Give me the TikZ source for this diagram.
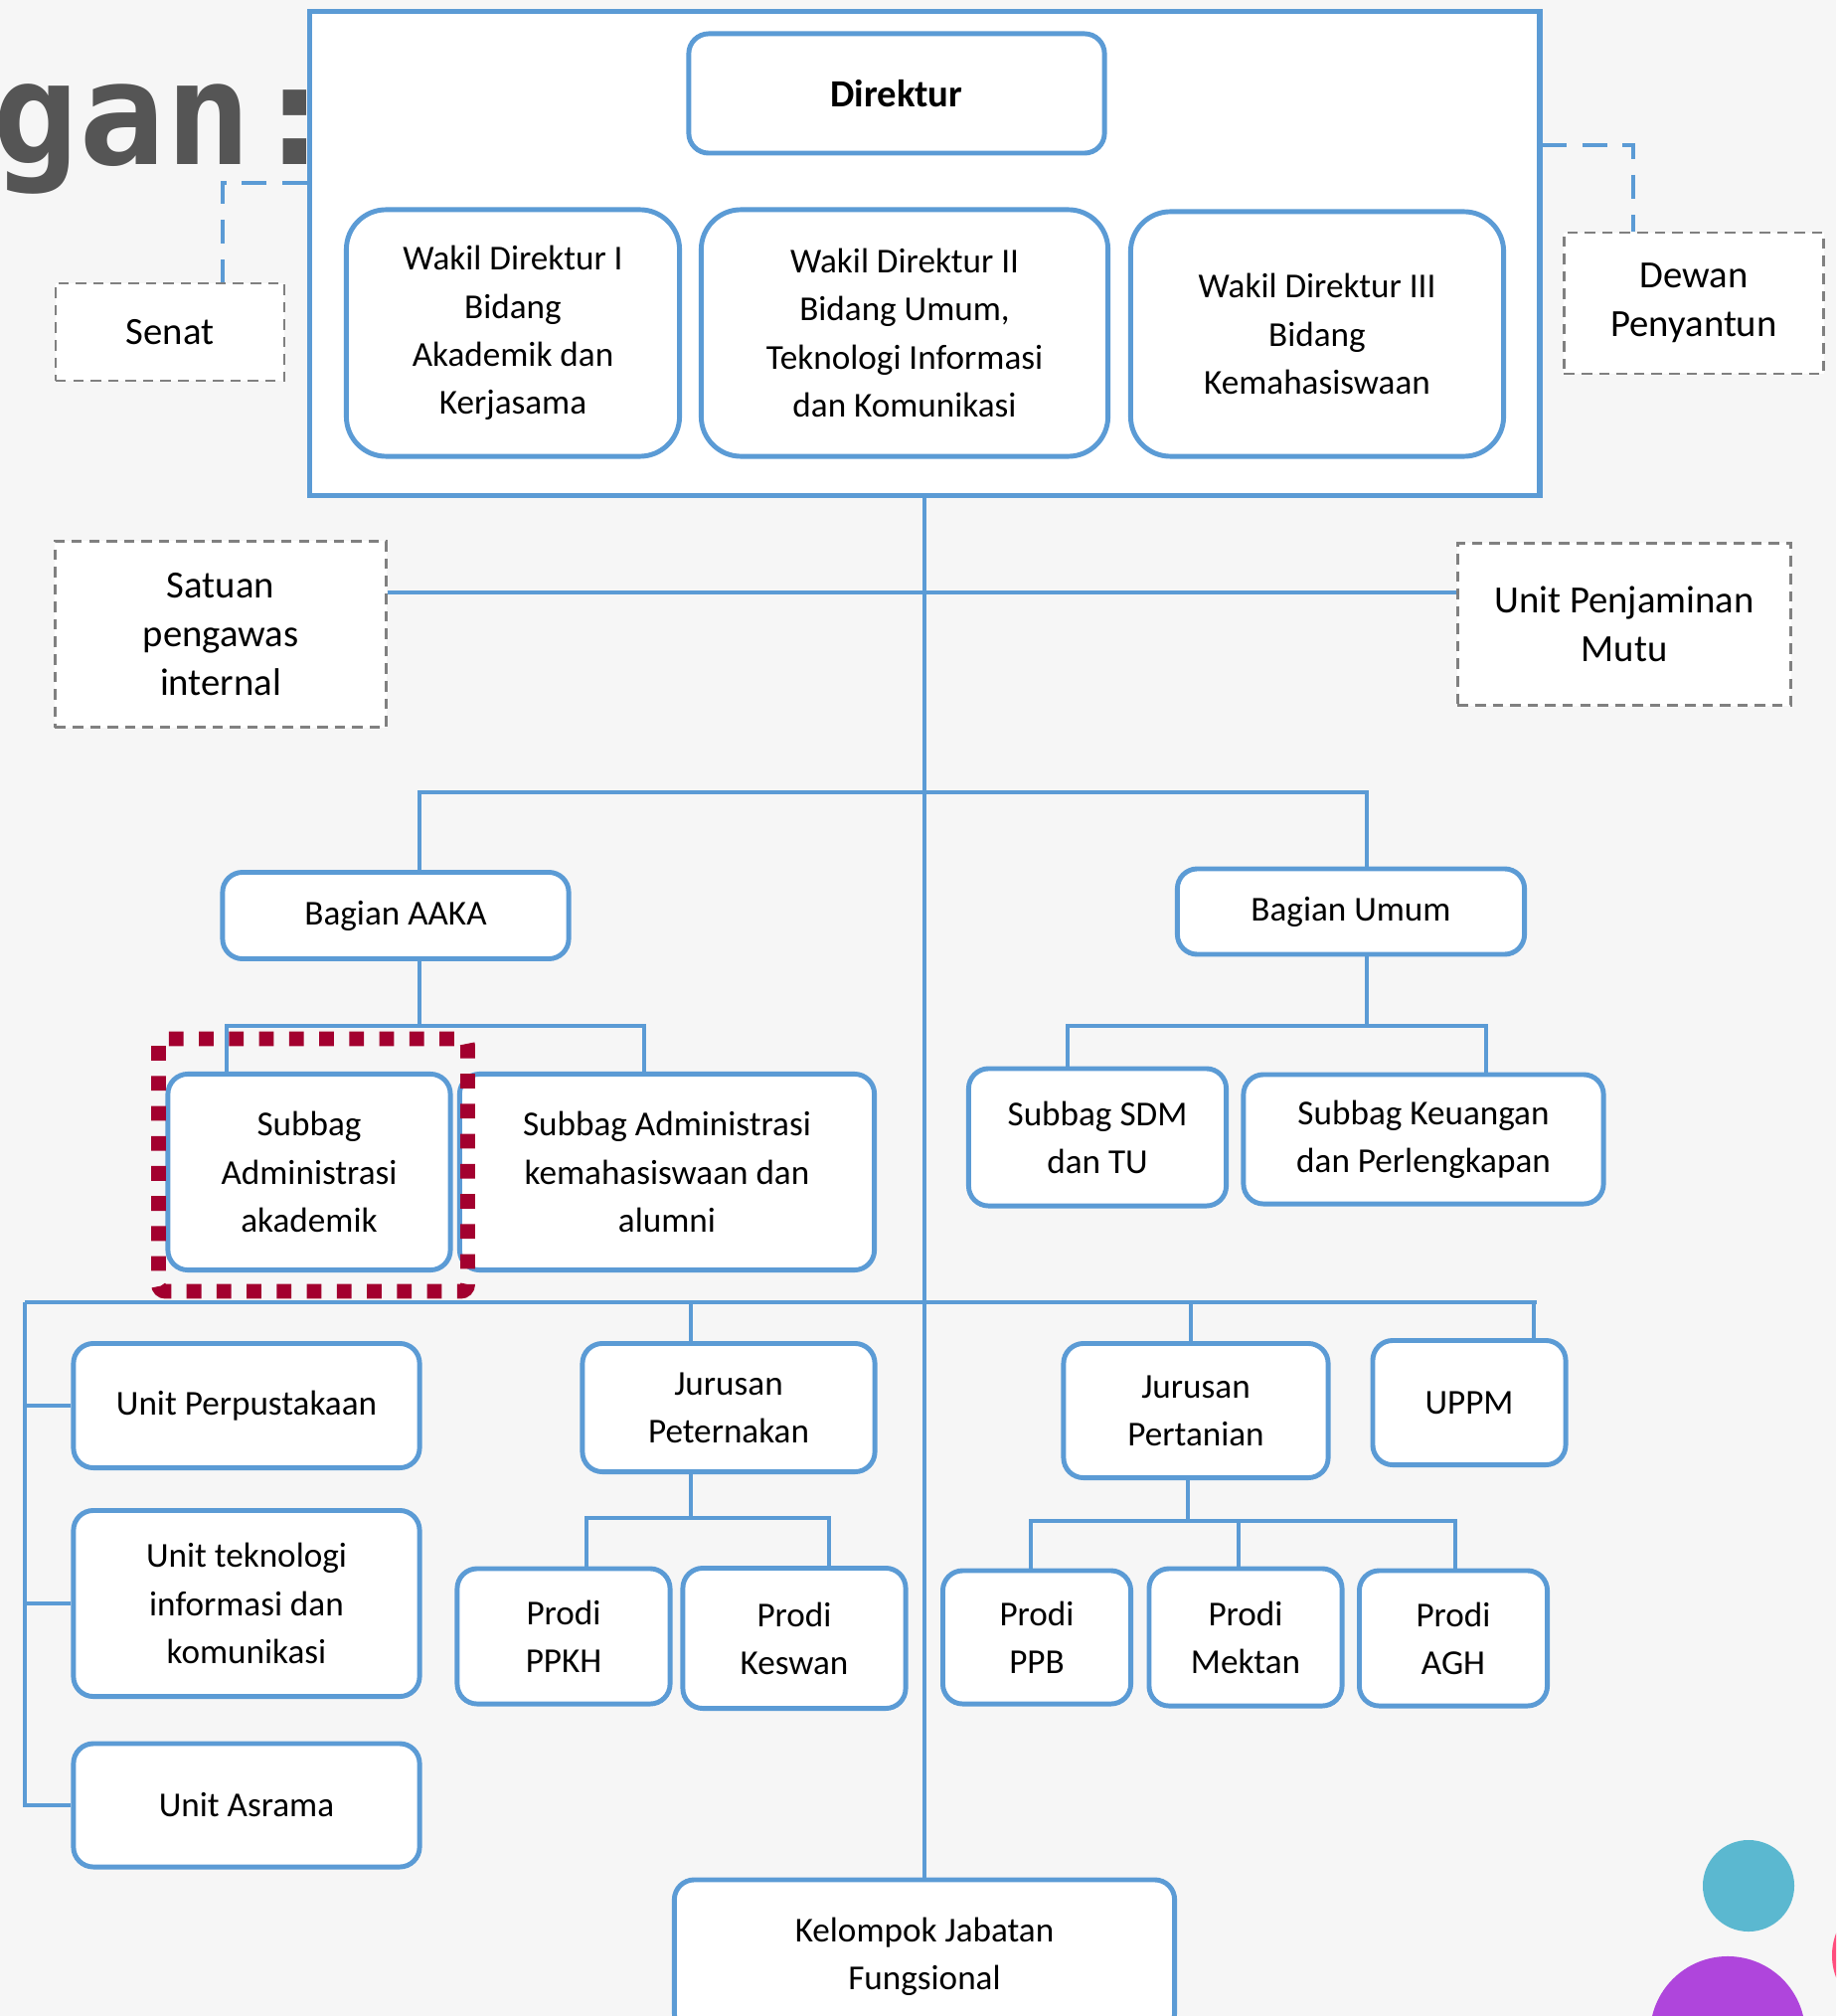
\documentclass[tikz,border=0pt]{standalone}
\usepackage{fontspec}
\setmainfont{Carlito}
\newfontfamily\titlefont{DejaVu Sans Mono}
\usetikzlibrary{positioning}
\definecolor{orgblue}{HTML}{5B9BD5}
\definecolor{bggray}{HTML}{F6F6F6}
\definecolor{dashgray}{HTML}{808080}
\definecolor{markred}{HTML}{A3002F}
\definecolor{titlegray}{HTML}{555555}
\definecolor{dotteal}{HTML}{5BB8D0}
\definecolor{dotpurple}{HTML}{AF45DC}
\definecolor{dotpink}{HTML}{FF4D7D}

\begin{document}
\begin{tikzpicture}[x=0.01cm, y=-0.01cm,
    unit/.style={draw=orgblue, line width=1.4pt, fill=white,
        rounded corners=0.2cm, align=center, inner sep=2pt,
        font=\fontsize{10}{13.7}\selectfont},
    wakil/.style={unit, rounded corners=0.4cm},
    outside/.style={draw=dashgray, line width=0.7pt, dash pattern=on 3pt off 2pt,
        fill=white, align=center, font=\fontsize{11}{14}\selectfont},
    link/.style={draw=orgblue, line width=1.2pt},
    advice/.style={link, dash pattern=on 7pt off 4.5pt}]
    \clip (0,0) rectangle (1847,2028);
    \fill[bggray] (0,0) rectangle (1847,2028);

    \node[anchor=base west, inner sep=0, text=titlegray,
        font=\titlefont\bfseries\fontsize{41}{42}\selectfont] (title) at (-8,166) {gan:};

    \node[draw=orgblue, line width=1.5pt, fill=white,
        minimum width=12.37cm, minimum height=4.86cm] (pimpinan) at (930,255) {};
    \node[unit, minimum width=4.18cm, minimum height=1.2cm,
        font=\bfseries\fontsize{11}{14}\selectfont] (direktur) at (902,94) {Direktur};
    \node[wakil, minimum width=3.35cm, minimum height=2.48cm] (wadir1) at (516,335)
        {Wakil Direktur I\\Bidang\\Akademik dan\\Kerjasama};
    \node[wakil, minimum width=4.09cm, minimum height=2.48cm] (wadir2) at (910,335)
        {Wakil Direktur II\\Bidang Umum,\\Teknologi Informasi\\dan Komunikasi};
    \node[wakil, minimum width=3.75cm, minimum height=2.46cm] (wadir3) at (1325,336)
        {Wakil Direktur III\\Bidang\\Kemahasiswaan};

    \node[outside, minimum width=2.3cm, minimum height=0.98cm] (senat) at (171,334) {Senat};
    \node[outside, minimum width=2.61cm, minimum height=1.42cm] (dewan) at (1704,305)
        {Dewan\\Penyantun};
    \coordinate (jSen) at (224,184);
    \coordinate (jDew) at (1643,146);
    \draw[advice] (pimpinan.west |- jSen) -- (jSen) -- (senat.north -| jSen);
    \draw[advice] (pimpinan.east |- jDew) -- (jDew) -- (dewan.north -| jDew);

    \node[unit, minimum width=5.03cm, minimum height=1.54cm] (kjf) at (930,1968)
        {Kelompok Jabatan\\Fungsional};
    \draw[link] (pimpinan.south) -- (kjf.north);

    \node[outside, minimum width=3.33cm, minimum height=1.87cm] (spi) at (222,638)
        {Satuan\\pengawas\\internal};
    \node[outside, minimum width=3.35cm, minimum height=1.63cm] (upm) at (1634,628)
        {Unit Penjaminan\\Mutu};
    \coordinate (jPengawas) at (930,596);
    \draw[link] (spi.east |- jPengawas) -- (upm.west |- jPengawas);

    \node[unit, minimum width=3.48cm, minimum height=0.87cm] (aaka) at (398,921) {Bagian AAKA};
    \node[unit, minimum width=3.49cm, minimum height=0.86cm] (umum) at (1359,917) {Bagian Umum};
    \coordinate (jAA) at (422,797);
    \coordinate (jUM) at (1375,797);
    \draw[link] (aaka.north -| jAA) -- (jAA) -- (jUM) -- (umum.north -| jUM);

    \node[unit, minimum width=2.84cm, minimum height=1.97cm] (sbakad) at (311,1179)
        {Subbag\\Administrasi\\akademik};
    \node[unit, minimum width=4.17cm, minimum height=1.97cm] (sbmhs) at (671,1179)
        {Subbag Administrasi\\kemahasiswaan dan\\alumni};
    \coordinate (jA1) at (228,1032);
    \coordinate (jA2) at (648,1032);
    \draw[link] (aaka.south -| jAA) -- (jAA |- jA1);
    \draw[link] (sbakad.north -| jA1) -- (jA1) -- (jA2) -- (sbmhs.north -| jA2);

    \node[unit, minimum width=2.59cm, minimum height=1.38cm] (sbsdm) at (1104,1144)
        {Subbag SDM\\dan TU};
    \node[unit, minimum width=3.62cm, minimum height=1.3cm] (sbkeu) at (1432,1146)
        {Subbag Keuangan\\dan Perlengkapan};
    \coordinate (jU1) at (1074,1032);
    \coordinate (jU2) at (1495,1032);
    \draw[link] (umum.south -| jUM) -- (jUM |- jU1);
    \draw[link] (sbsdm.north -| jU1) -- (jU1) -- (jU2) -- (sbkeu.north -| jU2);

    \node[unit, minimum width=3.48cm, minimum height=1.25cm] (perpus) at (248,1414)
        {Unit Perpustakaan};
    \node[unit, minimum width=3.48cm, minimum height=1.87cm] (utik) at (248,1613)
        {Unit teknologi\\informasi dan\\komunikasi};
    \node[unit, minimum width=3.48cm, minimum height=1.24cm] (asrama) at (248,1816)
        {Unit Asrama};
    \node[unit, minimum width=2.94cm, minimum height=1.29cm] (jptk) at (733,1416)
        {Jurusan\\Peternakan};
    \node[unit, minimum width=2.66cm, minimum height=1.35cm] (jptn) at (1203,1419)
        {Jurusan\\Pertanian};
    \node[unit, minimum width=1.94cm, minimum height=1.25cm] (uppm) at (1478,1411) {UPPM};
    \coordinate (jRowL) at (25,1310);
    \coordinate (jRowR) at (1546,1310);
    \coordinate (jPtk) at (695,1310);
    \coordinate (jPtn) at (1198,1310);
    \coordinate (jUppm) at (1543,1310);
    \draw[link] (jRowL) -- (jRowR);
    \draw[link] (jRowL) -- (jRowL |- asrama.west) -- (asrama.west);
    \draw[link] (jRowL |- perpus.west) -- (perpus.west);
    \draw[link] (jRowL |- utik.west) -- (utik.west);
    \draw[link] (jPtk) -- (jptk.north -| jPtk);
    \draw[link] (jPtn) -- (jptn.north -| jPtn);
    \draw[link] (jUppm) -- (uppm.north -| jUppm);

    \node[unit, minimum width=2.14cm, minimum height=1.36cm] (ppkh) at (567,1646) {Prodi\\PPKH};
    \node[unit, minimum width=2.24cm, minimum height=1.41cm] (keswan) at (799,1648) {Prodi\\Keswan};
    \coordinate (jK1) at (590,1527);
    \coordinate (jK2) at (834,1527);
    \draw[link] (jptk.south -| jPtk) -- (jPtk |- jK1);
    \draw[link] (ppkh.north -| jK1) -- (jK1) -- (jK2) -- (keswan.north -| jK2);

    \node[unit, minimum width=1.89cm, minimum height=1.34cm] (ppb) at (1043,1647) {Prodi\\PPB};
    \node[unit, minimum width=1.94cm, minimum height=1.38cm] (mektan) at (1253,1647) {Prodi\\Mektan};
    \node[unit, minimum width=1.89cm, minimum height=1.36cm] (agh) at (1462,1648) {Prodi\\AGH};
    \coordinate (jT1) at (1037,1530);
    \coordinate (jT2) at (1246,1530);
    \coordinate (jT3) at (1464,1530);
    \coordinate (jTm) at (1195,1530);
    \draw[link] (jptn.south -| jTm) -- (jTm);
    \draw[link] (ppb.north -| jT1) -- (jT1) -- (jT3) -- (agh.north -| jT3);
    \draw[link] (jT2) -- (mektan.north -| jT2);

    \draw[markred, line width=4.2pt, dash pattern=on 4.2pt off 4.4pt, rounded corners=2pt]
        ([shift={(-7,-33)}]sbakad.north west) rectangle ([shift={(15,19)}]sbakad.south east);

    \fill[dotteal] (1759,1897) circle (0.46cm);
    \fill[dotpurple] (1738,2046) circle (0.78cm);
    \fill[dotpink] (1905,1967) circle (0.62cm);
\end{tikzpicture}
\end{document}
